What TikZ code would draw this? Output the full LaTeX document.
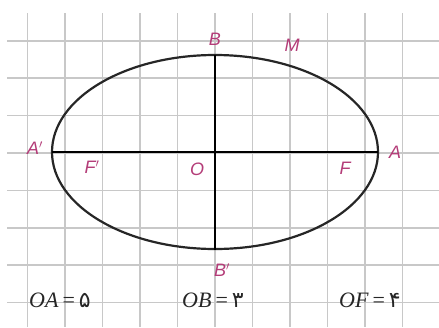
\documentclass[tikz,border=0pt]{standalone}
\usepackage{fontspec}
\setmainfont{Liberation Serif}
\newfontfamily\lblfont{Liberation Sans}
\newfontfamily\perfont[Script=Arabic]{DejaVu Sans}
\definecolor{lblpink}{RGB}{180,60,120}
\definecolor{gridgray}{RGB}{200,200,200}
\begin{document}
\begin{tikzpicture}[x=1pt,y=-1pt,
  gridline/.style={draw=gridgray,line width=1.6pt},
  axis/.style={draw=black,line width=2.6pt},
  curve/.style={draw=black!85,line width=2.2pt},
  lbl/.style={text=lblpink,font=\lblfont\itshape\fontsize{18}{18}\selectfont,inner sep=0pt},
  eq/.style={text=black!85,font=\itshape\fontsize{22}{22}\selectfont,inner sep=0pt}]
\useasboundingbox (0,0) rectangle (439,327);
\fill[white] (0,0) rectangle (439,327);
% grid
\foreach \i in {0,...,11} {
  \draw[gridline] (27.5+37.5*\i,13) -- (27.5+37.5*\i,327);
}
\foreach \j in {0,...,7} {
  \draw[gridline] (7,40.8+37.4*\j) -- (439,40.8+37.4*\j);
}
% points
\coordinate (O) at (215,152);
\coordinate (A1) at (52,152);
\coordinate (A2) at (378,152);
\coordinate (B1) at (215,55);
\coordinate (B2) at (215,250);
% ellipse
\draw[curve] (O) ellipse [x radius=163, y radius=97];
% axes
\draw[axis] (A1) -- (A2);
\draw[axis] (B1) -- (B2);
% labels
\node[lbl] (lB) at (215,39) {B};
\node[lbl] (lM) at (292,45) {M};
\node[lbl] (lA1) at (35,148) {A$'$};
\node[lbl] (lF1) at (92,167) {F$'$};
\node[lbl] (lO) at (197,169) {O};
\node[lbl] (lF) at (345,168) {F};
\node[lbl] (lA2) at (395,152) {A};
\node[lbl] (lB2) at (222,270) {B$'$};
% equations
\node[eq] (e1) at (60,300) {OA\hspace{4pt}{\upshape=}\hspace{4pt}{\upshape\perfont ۵}};
\node[eq] (e2) at (213,300) {OB\hspace{4pt}{\upshape=}\hspace{4pt}{\upshape\perfont ۳}};
\node[eq] (e3) at (370,300) {OF\hspace{4pt}{\upshape=}\hspace{4pt}{\upshape\perfont ۴}};
\end{tikzpicture}
\end{document}
